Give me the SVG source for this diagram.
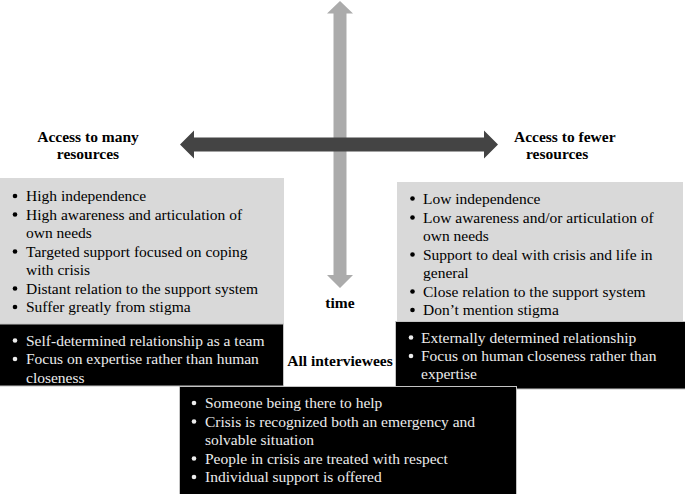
<svg xmlns="http://www.w3.org/2000/svg" width="685" height="494" viewBox="0 0 685 494">
<style>
text{font-family:"Liberation Serif","Times New Roman",serif;font-size:15.5px}
.d{fill:#000}
.w{fill:#ececec}
.b{font-weight:bold;fill:#000}
.c{text-anchor:middle}
.gbox{fill:#d9d9d9}
.kbox{fill:#000;stroke:#c4c4c4;stroke-width:1}
</style>
<rect width="685" height="494" fill="#fff"/>
<g id="connectors">
<polygon points="340,1 353,13.5 346.5,13.5 346.5,275 353,275 340,288 327,275 333.5,275 333.5,13.5 327,13.5" fill="#ababab"/>
<polygon points="180,144.5 194,130.5 194,137.5 484,137.5 484,130.5 498,144.5 484,158.5 484,151.5 194,151.5 194,158.5" fill="#444"/>
</g>
<g id="label-many">
<text class="b c" x="88" y="141.5">Access to many</text>
<text class="b c" x="88" y="159">resources</text>
</g>
<g id="label-fewer">
<text class="b" x="514" y="141.5">Access to fewer</text>
<text class="b" x="526" y="159">resources</text>
</g>
<g id="label-time">
<text class="b c" x="340" y="308">time</text>
</g>
<g id="label-all">
<text class="b c" x="340" y="366">All interviewees</text>
</g>
<g id="left-gray">
<rect class="gbox" x="0" y="178" width="284" height="146"/>
<g class="d">
<circle cx="15" cy="196" r="2.3"/><circle cx="15" cy="214.5" r="2.3"/><circle cx="15" cy="251.5" r="2.3"/><circle cx="15" cy="288.5" r="2.3"/><circle cx="15" cy="307" r="2.3"/>
</g>
<text class="d" x="26" y="201">High independence</text>
<text class="d" x="26" y="219.5">High awareness and articulation of</text>
<text class="d" x="26" y="238">own needs</text>
<text class="d" x="26" y="256.5">Targeted support focused on coping</text>
<text class="d" x="26" y="275">with crisis</text>
<text class="d" x="26" y="293.5">Distant relation to the support system</text>
<text class="d" x="26" y="312">Suffer greatly from stigma</text>
</g>
<g id="left-black">
<rect class="kbox" x="-1" y="324" width="284.5" height="62"/>
<g class="w">
<circle cx="15" cy="340.5" r="2.3"/><circle cx="15" cy="359" r="2.3"/>
</g>
<text class="w" x="26" y="345.5">Self-determined relationship as a team</text>
<text class="w" x="26" y="364">Focus on expertise rather than human</text>
<text class="w" x="26" y="382.5">closeness</text>
</g>
<g id="right-gray">
<rect class="gbox" x="397" y="182" width="286" height="140"/>
<g class="d">
<circle cx="412.5" cy="198.5" r="2.3"/><circle cx="412.5" cy="217.5" r="2.3"/><circle cx="412.5" cy="254.5" r="2.3"/><circle cx="412.5" cy="291.5" r="2.3"/><circle cx="412.5" cy="310" r="2.3"/>
</g>
<text class="d" x="423" y="203.5">Low independence</text>
<text class="d" x="423" y="222.5">Low awareness and/or articulation of</text>
<text class="d" x="423" y="241">own needs</text>
<text class="d" x="423" y="259.5">Support to deal with crisis and life in</text>
<text class="d" x="423" y="278">general</text>
<text class="d" x="423" y="296.5">Close relation to the support system</text>
<text class="d" x="423" y="315">Don’t mention stigma</text>
</g>
<g id="right-black">
<rect class="kbox" x="395.5" y="321.5" width="290" height="67.5"/>
<g class="w">
<circle cx="411" cy="337.5" r="2.3"/><circle cx="411" cy="356" r="2.3"/>
</g>
<text class="w" x="421" y="342.5">Externally determined relationship</text>
<text class="w" x="421" y="361">Focus on human closeness rather than</text>
<text class="w" x="421" y="379">expertise</text>
</g>
<g id="all-box">
<rect class="kbox" x="179.5" y="386.5" width="337" height="110"/>
<g class="w">
<circle cx="194" cy="403" r="2.3"/><circle cx="194" cy="421.5" r="2.3"/><circle cx="194" cy="458.5" r="2.3"/><circle cx="194" cy="477" r="2.3"/>
</g>
<text class="w" x="205" y="408">Someone being there to help</text>
<text class="w" x="205" y="426.5">Crisis is recognized both an emergency and</text>
<text class="w" x="205" y="445">solvable situation</text>
<text class="w" x="205" y="463.5">People in crisis are treated with respect</text>
<text class="w" x="205" y="482">Individual support is offered</text>
</g>
</svg>
